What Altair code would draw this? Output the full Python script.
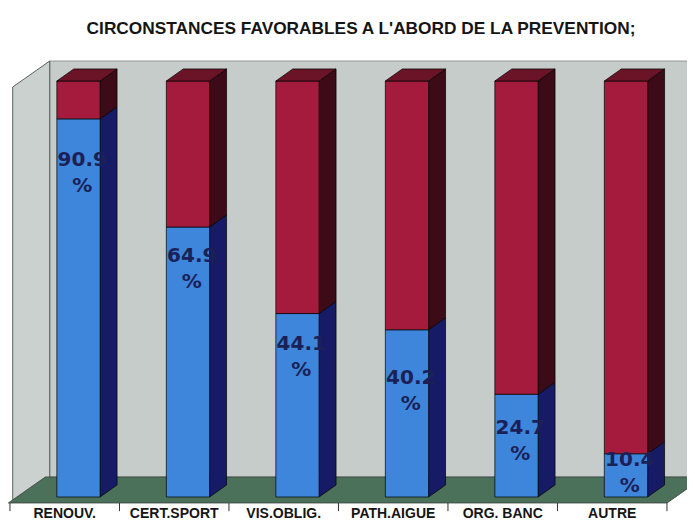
import altair as alt
import pandas as pd

# ---- data ----
categories = ["RENOUV.", "CERT.SPORT", "VIS.OBLIG.", "PATH.AIGUE", "ORG. BANC", "AUTRE"]
favorable = [90.9, 64.9, 44.1, 40.2, 24.7, 10.4]
title_text = "CIRCONSTANCES FAVORABLES A L'ABORD DE LA PREVENTION;"

# ---- style / layout (not data) ----
label_drop = [9.9, 7.0, 7.3, 11.6, 8.1, 1.5]   # label placement below segment top (pts)
W, H = 679, 515
X_DOM = [-0.018, 6.183]
Y_DOM = [-6.25, 117.55]
FLOOR_DX, FLOOR_DY = 0.338, 6.25
FLOOR_FRONT = -1.44
BAR_L, BAR_R = 0.428, 0.823
BAR_DX, BAR_DY = 0.155, 2.9
WALL_X = 0.025
FLOOR_L = -0.015
N = len(categories)

xs = alt.Scale(domain=X_DOM, nice=False, zero=False)
ys = alt.Scale(domain=Y_DOM, nice=False, zero=False)

WALL = "#c6ccc9"
FLOOR = "#4c715a"
EDGE = "#3a3f3c"
faces = ["blue_front", "red_front", "blue_side", "red_side", "red_top"]
face_cols = ["#3d86dc", "#a51b3d", "#171b66", "#3d0a18", "#6b1428"]
cscale = alt.Scale(domain=faces, range=face_cols)

# back wall
back = pd.DataFrame({"x": [WALL_X + FLOOR_DX], "x2": [N + FLOOR_DX],
                     "y": [FLOOR_FRONT + FLOOR_DY], "y2": [FLOOR_FRONT + FLOOR_DY + 100]})
back_l = alt.Chart(back).mark_rect(color=WALL, stroke="#7d8783", strokeWidth=0.8, clip=True).encode(
    x=alt.X("x:Q", scale=xs, axis=None), x2="x2", y=alt.Y("y:Q", scale=ys, axis=None), y2="y2")

# left wall
lw = pd.DataFrame({"x": [WALL_X, WALL_X + FLOOR_DX],
                   "y": [FLOOR_FRONT, FLOOR_FRONT + FLOOR_DY],
                   "y2": [FLOOR_FRONT + 100, FLOOR_FRONT + FLOOR_DY + 100]})
lw_l = alt.Chart(lw).mark_area(color="#cbd1ce", stroke=EDGE, strokeWidth=0.8).encode(
    x=alt.X("x:Q", scale=xs, axis=None), y=alt.Y("y:Q", scale=ys, axis=None, stack=None), y2="y2")

# floor
fl = pd.DataFrame({"y": [FLOOR_FRONT, FLOOR_FRONT + FLOOR_DY],
                   "x": [FLOOR_L, FLOOR_L + FLOOR_DX], "x2": [N, N + FLOOR_DX]})
fl_l = alt.Chart(fl).mark_area(orient="horizontal", color=FLOOR, stroke=EDGE, strokeWidth=0.8, clip=True).encode(
    y=alt.Y("y:Q", scale=ys, axis=None), x=alt.X("x:Q", scale=xs, axis=None, stack=None), x2="x2")

# ticks
tk = pd.DataFrame({"x": list(range(N + 1)), "y": [FLOOR_FRONT] * (N + 1), "y2": [-3.4] * (N + 1)})
tk_l = alt.Chart(tk).mark_rule(color="#333", strokeWidth=1).encode(
    x=alt.X("x:Q", scale=xs, axis=None), y=alt.Y("y:Q", scale=ys, axis=None), y2="y2")

# bars
fronts, sides, tops, labs = [], [], [], []
for i, v in enumerate(favorable):
    for c, lo, hi in (("blue", 0.0, v), ("red", v, 100.0)):
        fronts.append({"x": i + BAR_L, "x2": i + BAR_R, "y": lo, "y2": hi, "face": c + "_front"})
        pid = f"s{i}{c}"
        sides.append({"pid": pid, "x": i + BAR_R, "y": lo, "y2": hi, "face": c + "_side"})
        sides.append({"pid": pid, "x": i + BAR_R + BAR_DX, "y": lo + BAR_DY,
                      "y2": hi + BAR_DY, "face": c + "_side"})
    pid = f"t{i}"
    tops.append({"pid": pid, "y": 100.0, "x": i + BAR_L, "x2": i + BAR_R, "face": "red_top"})
    tops.append({"pid": pid, "y": 100.0 + BAR_DY, "x": i + BAR_L + BAR_DX,
                 "x2": i + BAR_R + BAR_DX, "face": "red_top"})
    labs.append({"x": i + 0.66, "y": v - label_drop[i], "t": f"{v}"})
    labs.append({"x": i + 0.66, "y": v - label_drop[i] - 6.25, "t": "%"})

side_l = alt.Chart(pd.DataFrame(sides)).mark_area(stroke="black", strokeWidth=0.7).encode(
    x=alt.X("x:Q", scale=xs, axis=None),
    y=alt.Y("y:Q", scale=ys, axis=None, stack=None), y2="y2",
    color=alt.Color("face:N", scale=cscale, legend=None),
    detail="pid:N")
front_l = alt.Chart(pd.DataFrame(fronts)).mark_rect(stroke="black", strokeWidth=0.7).encode(
    x=alt.X("x:Q", scale=xs, axis=None), x2="x2",
    y=alt.Y("y:Q", scale=ys, axis=None), y2="y2",
    color=alt.Color("face:N", scale=cscale, legend=None))
top_l = alt.Chart(pd.DataFrame(tops)).mark_area(orient="horizontal", stroke="black", strokeWidth=0.7).encode(
    y=alt.Y("y:Q", scale=ys, axis=None),
    x=alt.X("x:Q", scale=xs, axis=None, stack=None), x2="x2",
    color=alt.Color("face:N", scale=cscale, legend=None),
    detail="pid:N")

lab_l = alt.Chart(pd.DataFrame(labs)).mark_text(
    font="DejaVu Sans", fontWeight="bold", fontSize=20, color="#1b2157",
    align="center", baseline="middle").encode(
    x=alt.X("x:Q", scale=xs, axis=None), y=alt.Y("y:Q", scale=ys, axis=None), text="t:N")

cat_df = pd.DataFrame({"x": [i + 0.5 for i in range(N)], "t": categories})
cat_l = alt.Chart(cat_df).mark_text(
    font="Liberation Sans", fontWeight="bold", fontSize=14, color="#151515",
    align="center", baseline="alphabetic").encode(
    x=alt.X("x:Q", scale=xs, axis=None), y=alt.value(510), text="t:N")

title_l = alt.Chart(pd.DataFrame({"t": [title_text]})).mark_text(
    font="Liberation Sans", fontWeight="bold", fontSize=17.3, color="#151515",
    align="center", baseline="middle").encode(
    x=alt.value(353), y=alt.value(21), text="t:N")

chart = alt.layer(back_l, lw_l, fl_l, tk_l, side_l, front_l, top_l, lab_l, cat_l, title_l).properties(
    width=W, height=H, padding=0, autosize=alt.AutoSizeParams(type="none"),
    background="white").configure_view(stroke=None)

chart.save("out.html", embed_options={"renderer": "svg", "actions": False})
